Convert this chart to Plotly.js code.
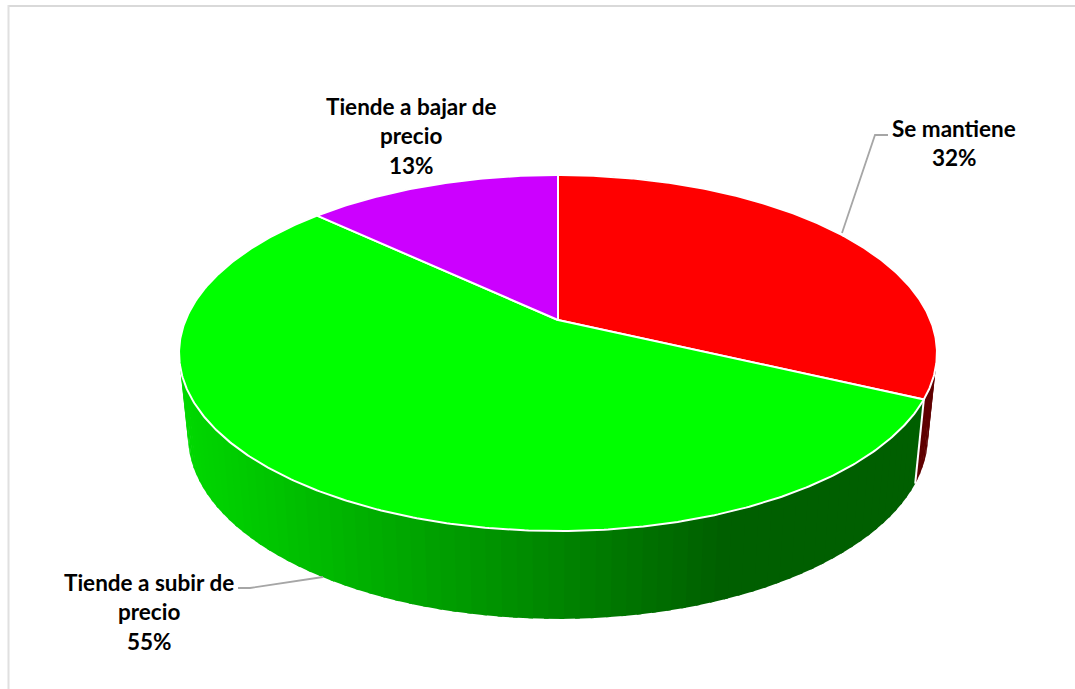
<!DOCTYPE html>
<html>
<head>
<meta charset="utf-8">
<script src="https://cdn.plot.ly/plotly-3.0.1.min.js"></script>
<style>html,body{margin:0;padding:0;background:#fff}#chart{width:1075px;height:689px}</style>
</head>
<body>
<div id="chart"></div>
<script>
// Price expectation shares, clockwise from twelve o'clock
const categories = ['Se mantiene', 'Tiende a subir de precio', 'Tiende a bajar de precio'];
const shares = [32, 55, 13];
const sliceColors = [[255, 0, 0], [0, 255, 0], [204, 0, 255]];

// Plot units are pixels. Both rims of the disc share one perspective factor.
const TILT = 0.1854;
const topRim = {cx: 558, cy: 320, a: 372.4, b: 171.9};
const bottomRim = {cx: 558, cy: 402, a: 363.6, b: 176.7};

function rimPoint(rim, degrees) {
  const t = degrees * Math.PI / 180;
  const u = Math.sin(t), v = Math.cos(t), w = 1 + TILT * v;
  return [rim.cx + rim.a * u / w, rim.cy - rim.b * v / w];
}

// Side wall darkens from left to right, then stays flat
function wallShade(x) {
  const level = 215 - 120 * (x - 190) / 530;
  return Math.max(95, Math.min(215, level)) / 255;
}

function wrapLabel(text, limit) {
  const lines = [];
  let line = '';
  for (const word of text.split(' ')) {
    const next = line ? line + ' ' + word : word;
    if (next.length > limit) { lines.push(line); line = word; } else { line = next; }
  }
  lines.push(line);
  return lines;
}

const traces = [];
const STEP = 2;
let start = 0;
const spans = shares.map(s => {
  const span = [start, start + s * 3.6];
  start = span[1];
  return span;
});

// Side wall, painted first so the lid hides its far half
spans.forEach(([from, to], i) => {
  for (let d = from; d < to; d += STEP) {
    const end = Math.min(d + STEP + 0.6, to);
    const p1 = rimPoint(topRim, d), p2 = rimPoint(topRim, end);
    const p3 = rimPoint(bottomRim, end), p4 = rimPoint(bottomRim, d);
    const s = wallShade((p1[0] + p2[0] + p3[0] + p4[0]) / 4);
    const c = sliceColors[i].map(v => Math.round(v * s));
    traces.push({
      type: 'scatter', mode: 'lines', fill: 'toself', hoverinfo: 'skip', showlegend: false,
      x: [p1[0], p2[0], p3[0], p4[0], p1[0]],
      y: [p1[1], p2[1], p3[1], p4[1], p1[1]],
      line: {width: 0}, fillcolor: `rgb(${c.join(',')})`
    });
  }
});

// Seam where the red wall meets the green one
const seamTop = rimPoint(topRim, spans[0][1]), seamBottom = rimPoint(bottomRim, spans[0][1]);
traces.push({
  type: 'scatter', mode: 'lines', hoverinfo: 'skip', showlegend: false,
  x: [seamTop[0], seamBottom[0]], y: [seamTop[1], seamBottom[1]],
  line: {color: '#ffffff', width: 2}
});

// Lid slices
spans.forEach(([from, to], i) => {
  const xs = [topRim.cx], ys = [topRim.cy];
  for (let d = from; d < to; d += 0.5) {
    const p = rimPoint(topRim, d);
    xs.push(p[0]); ys.push(p[1]);
  }
  const last = rimPoint(topRim, to);
  xs.push(last[0], topRim.cx); ys.push(last[1], topRim.cy);
  traces.push({
    type: 'scatter', mode: 'lines', fill: 'toself', hoverinfo: 'skip', showlegend: false,
    x: xs, y: ys, line: {color: '#ffffff', width: 2},
    fillcolor: `rgb(${sliceColors[i].join(',')})`
  });
});

// Leader lines
const LEADER = '#a6a6a6';
[[[842, 875, 888], [233, 135, 135]], [[323, 250, 238], [577, 588, 588]]].forEach(([x, y]) => {
  traces.push({
    type: 'scatter', mode: 'lines', hoverinfo: 'skip', showlegend: false,
    x, y, line: {color: LEADER, width: 1.8}
  });
});

// Data labels, one annotation per line so the leading can be set exactly
const labelAnchors = [[954, 128], [149, 582], [411, 106]];
const LEADING = 29.5;
const annotations = [];
categories.forEach((name, i) => {
  const lines = wrapLabel(name, 18).concat(shares[i] + '%');
  lines.forEach((text, n) => {
    annotations.push({
      x: labelAnchors[i][0], y: labelAnchors[i][1] + n * LEADING,
      xref: 'x', yref: 'y', text, showarrow: false,
      xanchor: 'center', yanchor: 'middle',
      font: {family: 'Lato, sans-serif', size: 22.5, color: '#000000', weight: 700}
    });
  });
});

const layout = {
  width: 1075, height: 689,
  margin: {l: 0, r: 0, t: 0, b: 0},
  paper_bgcolor: '#ffffff', plot_bgcolor: '#ffffff',
  xaxis: {range: [0, 1075], visible: false, fixedrange: true},
  yaxis: {range: [689, 0], visible: false, fixedrange: true},
  showlegend: false,
  annotations,
  shapes: [
    {type: 'line', xref: 'x', yref: 'y', x0: 8, x1: 1075, y0: 6, y1: 6, layer: 'below', line: {color: '#d9d9d9', width: 2}},
    {type: 'line', xref: 'x', yref: 'y', x0: 8.5, x1: 8.5, y0: 5, y1: 689, layer: 'below', line: {color: '#e0e0e0', width: 2}}
  ]
};

Plotly.newPlot('chart', traces, layout, {displayModeBar: false, staticPlot: true});
</script>
</body>
</html>
